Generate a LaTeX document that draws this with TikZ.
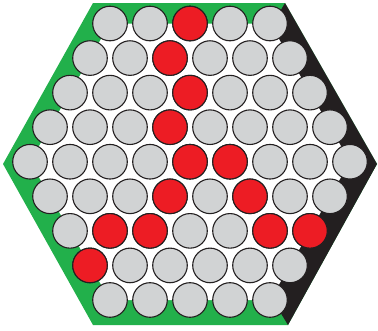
\documentclass[tikz,border=0pt]{standalone}
\usepackage{tikz}
\definecolor{player}{HTML}{22B04B}
\definecolor{rival}{HTML}{231F20}
\definecolor{empty}{HTML}{D1D3D4}
\definecolor{stone}{HTML}{ED1C24}

\begin{document}
\begin{tikzpicture}[x=1pt,y=-1pt,
  hole/.style={fill=empty,draw=rival,line width=1.1pt},
  peg/.style={fill=stone,draw=rival,line width=1.1pt}]
  \useasboundingbox (0,0) rectangle (378,330);
  % Board edges
  \fill[player] (93,3) -- (285,3) -- (377,164) -- (288,325) -- (93,325) -- (3,164) -- cycle;
  \fill[rival] (285,3) -- (377,164) -- (288,325) -- (190,164) -- cycle;
  % Playing field
  \fill[white] (110,23.5) -- (270,23.5) -- (350,161.7) -- (270,300) -- (110,300) -- (30,161.7) -- cycle;
  % Empty cells
  \foreach \r in {0,...,8} {
    \pgfmathtruncatemacro{\n}{9-abs(\r-4)}
    \foreach \i in {1,...,\n} {
      \pgfmathsetmacro{\x}{190-20*(\n-1)+40*(\i-1)}
      \pgfmathsetmacro{\y}{23.5+34.56*\r}
      \filldraw[hole] (\x,\y) circle (17.3);
    }
  }
  % Red stones
  \foreach \r/\i in {0/3,1/3,2/4,3/4,4/5,4/6,5/4,5/6,6/2,6/3,6/6,6/7,7/1} {
    \pgfmathtruncatemacro{\n}{9-abs(\r-4)}
    \pgfmathsetmacro{\x}{190-20*(\n-1)+40*(\i-1)}
    \pgfmathsetmacro{\y}{23.5+34.56*\r}
    \filldraw[peg] (\x,\y) circle (17.3);
  }
\end{tikzpicture}
\end{document}
